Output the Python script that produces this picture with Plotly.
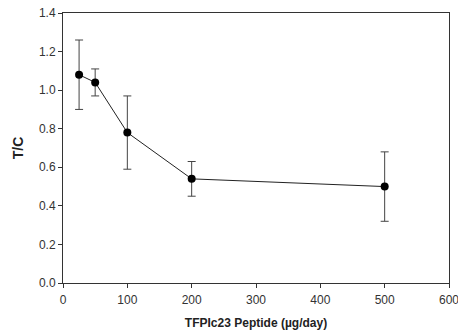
import plotly.graph_objects as go

dose = [25, 50, 100, 200, 500]
tc = [1.08, 1.04, 0.78, 0.54, 0.50]
err = [0.18, 0.07, 0.19, 0.09, 0.18]

fig = go.Figure()
fig.add_trace(go.Scatter(
    x=dose, y=tc, mode="lines+markers",
    line=dict(color="#222222", width=1),
    marker=dict(color="black", size=8),
    error_y=dict(type="data", array=err, visible=True, color="#444444", thickness=1, width=4),
    showlegend=False,
))
fig.update_layout(
    width=458, height=334,
    margin=dict(l=63, r=9, t=13, b=51),
    paper_bgcolor="white", plot_bgcolor="white",
    font=dict(family="Liberation Sans, Arial, sans-serif", color="#333333", size=12),
    xaxis=dict(range=[0, 600], tickvals=[0, 100, 200, 300, 400, 500, 600],
               showgrid=False, zeroline=False, showline=True, linecolor="#333333", linewidth=1,
               mirror=True, ticks="outside", ticklen=4, tickcolor="#333333", ticklabelstandoff=2,
               ticklabeloverflow="allow", automargin=False,
               title=dict(text="<b>TFPIc23 Peptide (µg/day)</b>", font=dict(size=12, color="#222222"), standoff=12)),
    yaxis=dict(range=[0, 1.4], tickvals=[0, 0.2, 0.4, 0.6, 0.8, 1.0, 1.2, 1.4], tickformat=".1f",
               showgrid=False, zeroline=False, showline=True, linecolor="#333333", linewidth=1,
               mirror=True, ticks="outside", ticklen=4, tickcolor="#333333",
               ticklabeloverflow="allow", automargin=False,
               title=dict(text="<b>T/C</b>", font=dict(size=14, color="#222222"), standoff=12)),
)
fig.write_html("out.html")
